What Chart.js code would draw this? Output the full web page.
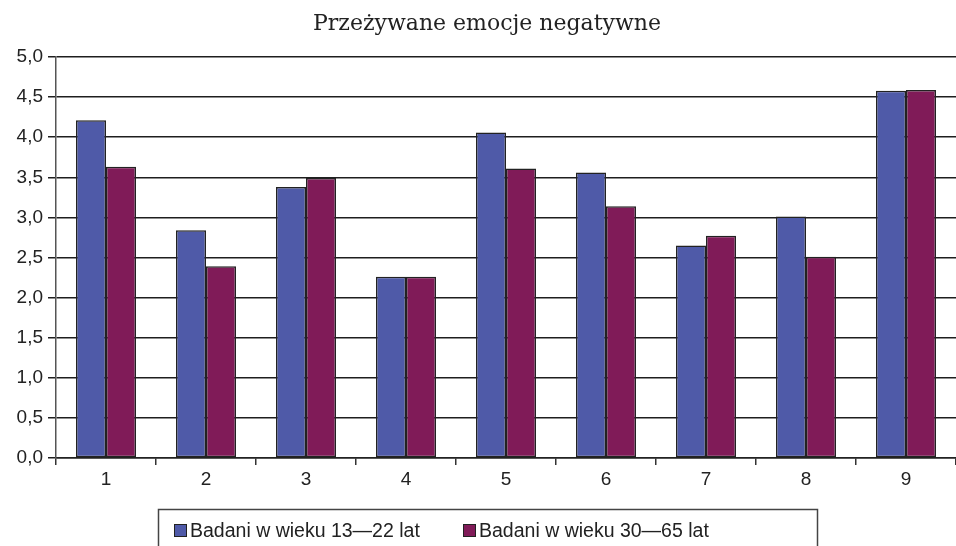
<!DOCTYPE html>
<html>
<head>
<meta charset="utf-8">
<script src="https://cdn.jsdelivr.net/npm/chart.js@4"></script>
<style>
  html, body { margin: 0; padding: 0; background: #fff; }
  #wrap { width: 956px; height: 546px; }
</style>
</head>
<body>
<div id="wrap"><canvas id="chart" width="956" height="546"></canvas></div>
<script>
// dane wykresu
const title = 'Przeżywane emocje negatywne';
const categories = ['1', '2', '3', '4', '5', '6', '7', '8', '9'];
const seriesNames = ['Badani w wieku 13\u201422 lat', 'Badani w wieku 30\u201465 lat'];
const young = [4.21, 2.84, 3.38, 2.26, 4.06, 3.56, 2.65, 3.01, 4.58];
const older = [3.63, 2.39, 3.49, 2.26, 3.61, 3.14, 2.77, 2.51, 4.59];
const yTicks = [0, 0.5, 1, 1.5, 2, 2.5, 3, 3.5, 4, 4.5, 5];

const colors = ['#4f5aa8', '#801b58'];

// tytuł i legenda w ramce rysowane ręcznie
const decor = {
  id: 'decor',
  afterDraw(chart) {
    const ctx = chart.ctx;
    ctx.save();
    ctx.fillStyle = '#222';
    ctx.font = '22px "DejaVu Serif", serif';
    ctx.textAlign = 'center';
    ctx.textBaseline = 'alphabetic';
    ctx.fillText(title, 487, 30);

    // ramka legendy
    ctx.strokeStyle = '#444';
    ctx.lineWidth = 1.5;
    ctx.strokeRect(158.5, 509.5, 659, 60);

    ctx.font = '19.5px "Liberation Sans", Arial, sans-serif';
    ctx.textAlign = 'left';
    const items = [174, 463];
    chart.data.datasets.forEach((ds, i) => {
      const x = items[i];
      ctx.fillStyle = ds.backgroundColor;
      ctx.fillRect(x, 524, 12, 12);
      ctx.strokeStyle = '#222';
      ctx.lineWidth = 1;
      ctx.strokeRect(x + 0.5, 524.5, 12, 12);
      ctx.fillStyle = '#222';
      ctx.fillText(ds.label, x + 16, 537);
    });
    ctx.restore();
  }
};

new Chart(document.getElementById('chart'), {
  type: 'bar',
  data: {
    labels: categories,
    datasets: [
      { label: seriesNames[0], data: young, backgroundColor: colors[0] },
      { label: seriesNames[1], data: older, backgroundColor: colors[1] }
    ].map(ds => Object.assign(ds, {
      borderColor: '#222',
      borderWidth: 1.5,
      borderSkipped: false,
      categoryPercentage: 0.6,
      barPercentage: 1.0
    }))
  },
  options: {
    responsive: false,
    animation: false,
    layout: { padding: { top: 57, bottom: 58, left: 0, right: 0 } },
    plugins: {
      legend: { display: false },
      title: { display: false },
      tooltip: { enabled: false }
    },
    scales: {
      x: {
        afterFit: s => { s.height = 30; },
        grid: {
          display: true,
          drawOnChartArea: false,
          drawTicks: true,
          tickLength: 7,
          color: '#333',
          lineWidth: 1.5
        },
        border: { color: '#222', width: 1.5 },
        ticks: {
          color: '#222',
          padding: 3,
          font: { family: '"Liberation Sans", Arial, sans-serif', size: 19 }
        }
      },
      y: {
        min: 0,
        max: 5,
        afterFit: s => { s.width = 56; },
        afterBuildTicks: s => { s.ticks = yTicks.map(v => ({ value: v })); },
        grid: {
          color: '#1e1e1e',
          lineWidth: 1.5,
          tickLength: 8
        },
        border: { color: '#555', width: 1.5 },
        ticks: {
          color: '#222',
          padding: 5,
          font: { family: '"Liberation Sans", Arial, sans-serif', size: 19 },
          callback: v => v.toFixed(1).replace('.', ',')
        }
      }
    }
  },
  plugins: [decor]
});
</script>
</body>
</html>
